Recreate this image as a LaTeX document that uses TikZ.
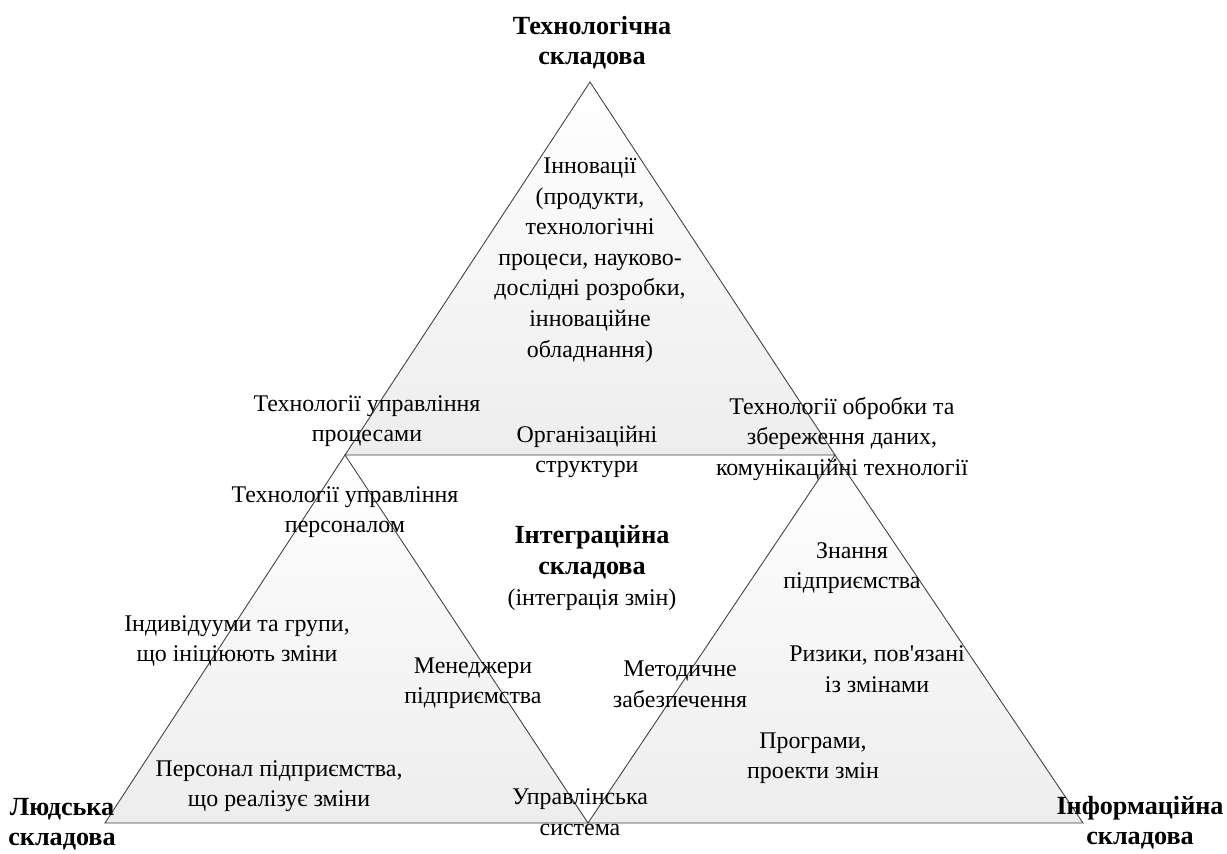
\documentclass[tikz,border=0pt]{standalone}
\usepackage{fontspec}
\setmainfont{Liberation Serif}
\usepackage{tikz}

\begin{document}
\begin{tikzpicture}[x=0.02cm,y=-0.02cm]
              \tikzstyle{every node}+=[inner sep=0pt, align=center, font=\fontsize{13.6}{17.4}\selectfont]
              \tikzstyle{part}=[draw=black!75, line width=0.5pt, top color=white, bottom color=black!7]
              \tikzstyle{head}=[font=\fontsize{14.9}{17.2}\selectfont\bfseries]
              \useasboundingbox (0,0) rectangle (1227,853);
              % vertices
              \coordinate (T) at (590,82);
              \coordinate (L) at (105,823);
              \coordinate (R) at (1083,823);
              \coordinate (ML) at (345,455);
              \coordinate (MR) at (835,455);
              \coordinate (MB) at (588,823);
              \shade [part] (T) -- (MR) -- (ML) -- cycle;
              \shade [part] (ML) -- (MB) -- (L) -- cycle;
              \shade [part] (MR) -- (R) -- (MB) -- cycle;
              % corner labels
              \node [head] (tech) at (592,43) {Технологічна\\складова};
              \node [head] (hum) at (62,824) {Людська\\складова};
              \node [head] (inf) at (1140,823) {Інформаційна\\складова};
              \node (integ) at (592,568) {{\fontsize{14.9}{17.4}\selectfont\bfseries Інтеграційна}\\{\fontsize{14.9}{17.4}\selectfont\bfseries складова}\\(інтеграція змін)};
              % top part
              \node (innov) at (590,260) {Інновації\\(продукти,\\технологічні\\процеси, науково-\\дослідні розробки,\\інноваційне\\обладнання)};
              \node (procs) at (367,421) {Технології управління\\процесами};
              \node (orgs) at (587,452) {Організаційні\\структури};
              \node (data) at (842,439) {Технології обробки та\\збереження даних,\\комунікаційні технології};
              % left part
              \node (pers) at (345,512) {Технології управління\\персоналом};
              \node (indiv) at (237,641) {Індивідууми та групи,\\що ініціюють зміни};
              \node (mgr) at (473,683) {Менеджери\\підприємства};
              \node (staff) at (279,786) {Персонал підприємства,\\що реалізує зміни};
              \node (ctrl) at (580,812) {Управлінська\\система};
              % right part
              \node (know) at (852,568) {Знання\\підприємства};
              \node (meth) at (680,684) {Методичне\\забезпечення};
              \node (risk) at (877,669) {Ризики, пов\textquotesingle язані\\із змінами};
              \node (prog) at (813,758) {Програми,\\проекти змін};
\end{tikzpicture}
\end{document}
